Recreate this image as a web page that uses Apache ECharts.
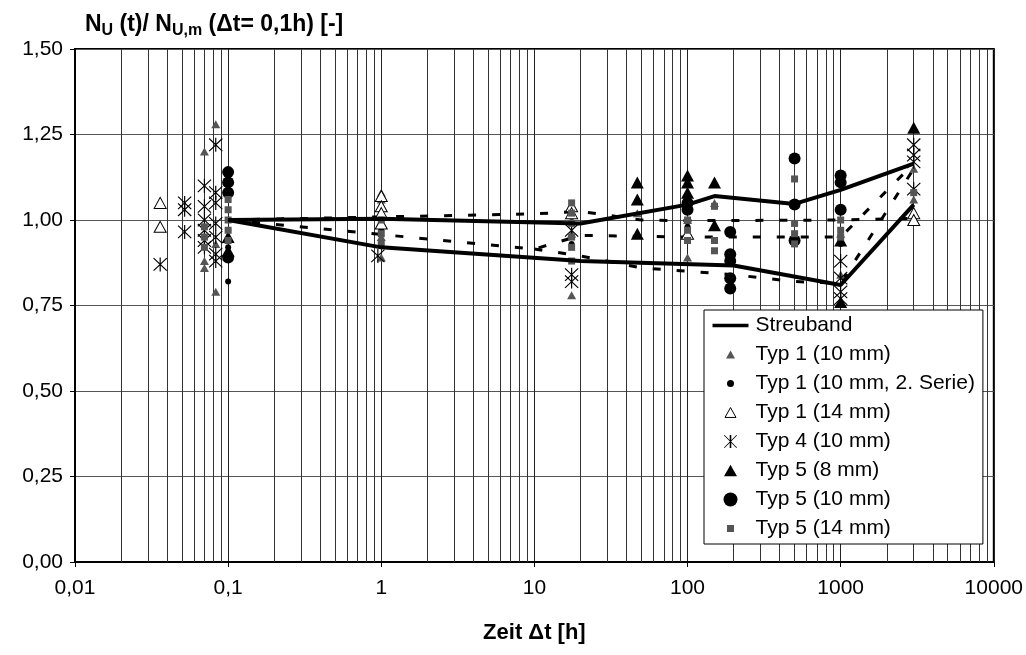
<!DOCTYPE html>
<html><head><meta charset="utf-8">
<script src="https://cdn.jsdelivr.net/npm/echarts@6/dist/echarts.min.js"></script>
<style>html,body{margin:0;padding:0;background:#fff}#c{width:1026px;height:655px}</style>
</head><body><div id="c"></div>
<script>
// ---- tick labels ----
const xTickLabels = ['0,01','0,1','1','10','100','1000','10000'];
const yTickValues = [0,0.25,0.5,0.75,1,1.25,1.5];
const minorGridT = [0.02,0.03,0.04,0.05,0.06,0.07,0.08,0.09,0.2,0.3,0.4,0.5,0.6,0.7,0.8,0.9,2,3,4,5,6,7,8,9,20,30,40,50,60,70,80,90,200,300,400,500,600,700,800,900,2000,3000,4000,5000,6000,7000,8000,9000];

// ---- Streuband (solid) ----
const bandUpperT = [0.1,1,20,100,150,500,1000,3000];
const bandUpperV = [1.0,1.004,0.99,1.045,1.07,1.047,1.088,1.165];
const bandLowerT = [0.1,1,20,200,1000,3000];
const bandLowerV = [1.0,0.92,0.88,0.867,0.81,1.045];

// ---- dashed inner lines ----
const dash1T = [0.1,10,20,50,100,1000,3000];
const dash1V = [1.0,1.018,1.025,1.0,0.998,1.0,1.005];
const dash2T = [0.1,10,20,100,1000,3000];
const dash2V = [1.0,0.915,0.955,0.95,0.95,1.165];
const dash3T = [10,20,50,200,500,1000,3000];
const dash3V = [0.915,0.895,0.86,0.84,0.82,0.815,1.15];

// ---- scatter series ----
const typ1_10_T = [0.07,0.07,0.07,0.083,0.083,0.083,1,1,1,1,17.5,17.5,17.5,47,100,100,150,1000,1000,3000,3000];
const typ1_10_V = [1.20,0.86,0.88,1.28,0.79,0.93,1.08,1.06,0.95,0.89,1.00,0.96,0.78,1.02,0.89,1.00,1.05,0.96,0.84,1.15,1.06];
const typ1_10s2_T = [0.1,0.1,0.1,0.1,1,17.5,100,500,1000];
const typ1_10s2_V = [1.0,0.97,0.92,0.82,0.97,0.93,0.98,0.95,0.93];
const typ1_14_T = [0.036,0.036,1,1,1,1,17.5,17.5,100,3000,3000];
const typ1_14_V = [1.05,0.98,1.07,1.04,1.02,0.99,1.04,1.02,0.96,1.02,1.0];
const typ4_10_T = [0.036,0.052,0.052,0.052,0.07,0.07,0.07,0.07,0.07,0.07,0.083,0.083,0.083,0.083,0.083,0.083,0.083,0.95,17.5,17.5,17.5,1000,1000,1000,1000,3000,3000,3000,3000];
const typ4_10_V = [0.87,1.05,1.03,0.965,1.10,1.04,1.0,0.97,0.94,0.92,1.22,1.08,1.05,0.99,0.95,0.90,0.88,0.895,0.97,0.84,0.82,0.88,0.83,0.79,0.77,1.22,1.19,1.17,1.09];
const typ5_8_T = [0.1,0.1,47,47,47,100,100,100,150,150,1000,1000,3000];
const typ5_8_V = [0.95,0.91,1.11,1.06,0.96,1.13,1.11,1.08,1.11,0.985,0.94,0.76,1.27];
const typ5_10_T = [0.1,0.1,0.1,0.1,100,100,190,190,190,190,190,500,500,500,1000,1000,1000];
const typ5_10_V = [1.14,1.11,1.08,0.89,1.05,1.03,0.965,0.90,0.88,0.83,0.80,1.18,1.045,0.94,1.13,1.11,1.03];
const typ5_14_T = [0.07,0.07,0.07,0.1,0.1,0.1,0.1,0.1,1,1,1,17.5,17.5,17.5,17.5,17.5,17.5,100,100,100,150,150,150,500,500,500,500,1000,1000,1000,3000];
const typ5_14_V = [0.98,0.95,0.92,1.06,1.03,1.0,0.97,0.94,1.0,0.96,0.93,1.05,1.02,0.99,0.95,0.92,0.88,1.0,0.97,0.94,1.04,0.94,0.91,1.12,0.99,0.96,0.93,1.0,0.97,0.95,1.08];

const pairs = (t, v) => t.map((x, i) => [x, v[i]]);
const FONT = "'Liberation Sans', Arial, sans-serif";

// asterisk (X with vertical bar) as filled path
const ASTER = 'path://M9.2,0L10.8,0L10.8,20L9.2,20Z M1.6,0.5L19.5,18.4L18.4,19.5L0.5,1.6Z M18.4,0.5L19.5,1.6L1.6,19.5L0.5,18.4Z';

// legend icons: 40x20 bounding box, shape centred at (20,10)
const BOX = 'M0,0 M40,20 ';
function triIcon(s){ const h=s*0.9; return 'path://'+BOX+`M20,${10-h/2}L${20+s/2},${10+h/2}L${20-s/2},${10+h/2}Z`; }
function cirIcon(r){ return 'path://'+BOX+`M${20+r},10A${r},${r},0,1,1,${20-r},10A${r},${r},0,1,1,${20+r},10Z`; }
function sqIcon(s){ return 'path://'+BOX+`M${20-s/2},${10-s/2}L${20+s/2},${10-s/2}L${20+s/2},${10+s/2}L${20-s/2},${10+s/2}Z`; }
function asterIcon(s){
  const a=s/2, w=0.8, d=0.6;
  return 'path://'+BOX+
    `M${20-w},${10-a}L${20+w},${10-a}L${20+w},${10+a}L${20-w},${10+a}Z `+
    `M${20-a+d},${10-a-d+0.6}L${20+a+d-0.6},${10+a-d}L${20+a-d},${10+a+d-0.6}L${20-a-d+0.6},${10-a+d}Z `+
    `M${20+a-d},${10-a-d+0.6}L${20+a+d-0.6},${10-a+d}L${20-a+d},${10+a+d-0.6}L${20-a-d+0.6},${10+a-d}Z`;
}
const LINE_ICON = 'path://M0,0 M40,20 M2,8.2L38,8.2L38,11.8L2,11.8Z';

const chart = echarts.init(document.getElementById('c'), null, {renderer:'canvas'});

const scatterBase = {type:'scatter', z:3};
const option = {
  backgroundColor:'#fff',
  animation:false,
  title:{
    left:80, top:5,
    text:'{b|N}{s|U}{b| (t)/ N}{s|U,m}{b| (Δt= 0,1h) [-]}',
    textStyle:{ rich:{
      b:{fontFamily:FONT,fontWeight:'bold',fontSize:23,color:'#000',lineHeight:29},
      s:{fontFamily:FONT,fontWeight:'bold',fontSize:16,color:'#000',lineHeight:17,verticalAlign:'bottom'}
    }}
  },
  grid:{left:75,right:32,top:49,bottom:93,show:true,borderColor:'#000',borderWidth:2,backgroundColor:'#fff'},
  xAxis:{
    type:'log', logBase:10, min:0.01, max:10000,
    name:'Zeit Δt [h]', nameLocation:'middle', nameGap:60,
    nameTextStyle:{fontFamily:FONT,fontWeight:'bold',fontSize:22,color:'#000'},
    axisLine:{lineStyle:{color:'#000',width:2}},
    axisTick:{show:true,length:5,lineStyle:{color:'#000'}},
    axisLabel:{fontFamily:FONT,fontSize:21,color:'#000',margin:16,
      formatter:v=>xTickLabels[Math.round(Math.log10(v))+2]},
    splitLine:{show:true,lineStyle:{color:'#222',width:1}}
  },
  yAxis:{
    type:'value', min:0, max:1.5, interval:0.25,
    axisLine:{show:true,lineStyle:{color:'#000',width:2}},
    axisTick:{show:true,length:5,lineStyle:{color:'#000'}},
    axisLabel:{fontFamily:FONT,fontSize:21,color:'#000',margin:12,
      formatter:v=>v.toFixed(2).replace('.',',')},
    splitLine:{show:true,lineStyle:{color:'#555',width:1}}
  },
  legend:{
    orient:'vertical', left:704, top:310, z:20,
    backgroundColor:'#fff', borderColor:'#000', borderWidth:1, borderRadius:0,
    padding:[5,8,5,6], itemGap:8, itemWidth:40, itemHeight:20,
    textStyle:{fontFamily:FONT,fontSize:21,color:'#000'},
    data:[
      {name:'Streuband', icon:LINE_ICON},
      {name:'Typ 1 (10 mm)', icon:triIcon(9)},
      {name:'Typ 1 (10 mm, 2. Serie)', icon:cirIcon(3.5)},
      {name:'Typ 1 (14 mm)', icon:triIcon(11), itemStyle:{color:'#fff',borderColor:'#000',borderWidth:1}},
      {name:'Typ 4 (10 mm)', icon:asterIcon(13)},
      {name:'Typ 5 (8 mm)', icon:triIcon(13)},
      {name:'Typ 5 (10 mm)', icon:cirIcon(7)},
      {name:'Typ 5 (14 mm)', icon:sqIcon(7)}
    ]
  },
  series:[
    {name:'grid', type:'line', data:[], silent:true, symbol:'none', z:1,
     markLine:{silent:true, z:1, symbol:['none','none'], label:{show:false},
       lineStyle:{color:'#333',width:1,type:'solid'},
       data:minorGridT.map(t=>({xAxis:t}))}},
    {name:'d1', type:'line', data:pairs(dash1T,dash1V), symbol:'none', z:2,
     lineStyle:{color:'#000',width:3,type:[8,16]}},
    {name:'d2', type:'line', data:pairs(dash2T,dash2V), symbol:'none', z:2,
     lineStyle:{color:'#000',width:3,type:[8,16]}},
    {name:'d3', type:'line', data:pairs(dash3T,dash3V), symbol:'none', z:2,
     lineStyle:{color:'#000',width:3,type:[8,16]}},
    {name:'Streuband', type:'line', data:pairs(bandUpperT,bandUpperV), symbol:'none', z:4,
     itemStyle:{color:'#000'}, lineStyle:{color:'#000',width:4}},
    {name:'Streuband', type:'line', data:pairs(bandLowerT,bandLowerV), symbol:'none', z:4,
     itemStyle:{color:'#000'}, lineStyle:{color:'#000',width:4}},
    Object.assign({}, scatterBase, {name:'Typ 1 (10 mm)', data:pairs(typ1_10_T,typ1_10_V),
      symbol:'triangle', symbolSize:[9,8], itemStyle:{color:'#555',opacity:1}}),
    Object.assign({}, scatterBase, {name:'Typ 1 (10 mm, 2. Serie)', data:pairs(typ1_10s2_T,typ1_10s2_V),
      symbol:'circle', symbolSize:6, itemStyle:{color:'#000',opacity:1}}),
    Object.assign({}, scatterBase, {name:'Typ 1 (14 mm)', data:pairs(typ1_14_T,typ1_14_V),
      symbol:'triangle', symbolSize:[12,11], itemStyle:{color:'#fff',borderColor:'#000',borderWidth:1,opacity:1}}),
    Object.assign({}, scatterBase, {name:'Typ 4 (10 mm)', data:pairs(typ4_10_T,typ4_10_V),
      symbol:ASTER, symbolSize:14, itemStyle:{color:'#000',opacity:1}}),
    Object.assign({}, scatterBase, {name:'Typ 5 (8 mm)', data:pairs(typ5_8_T,typ5_8_V),
      symbol:'triangle', symbolSize:[13,12], itemStyle:{color:'#000',opacity:1}}),
    Object.assign({}, scatterBase, {name:'Typ 5 (10 mm)', data:pairs(typ5_10_T,typ5_10_V),
      symbol:'circle', symbolSize:12, itemStyle:{color:'#000',opacity:1}}),
    Object.assign({}, scatterBase, {name:'Typ 5 (14 mm)', data:pairs(typ5_14_T,typ5_14_V),
      symbol:'rect', symbolSize:7, itemStyle:{color:'#555',opacity:1}})
  ]
};
chart.setOption(option);
</script>
</body></html>
